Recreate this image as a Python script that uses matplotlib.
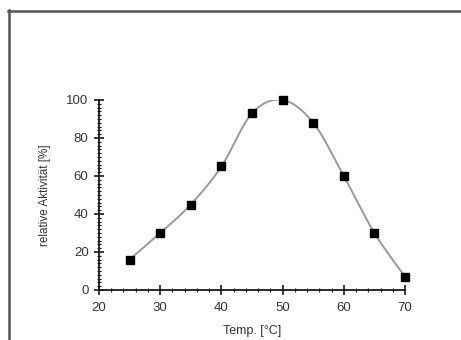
import numpy as np
import matplotlib
matplotlib.use("Agg")
import matplotlib.pyplot as plt
from matplotlib.lines import Line2D
from matplotlib.ticker import MultipleLocator

temps = [25, 30, 35, 40, 45, 50, 55, 60, 65, 70]
activity = [16, 30, 45, 65, 93, 100, 88, 60, 30, 7]
xticks = [20, 30, 40, 50, 60, 70]
yticks = [0, 20, 40, 60, 80, 100]

plt.rcParams['font.family'] = ['Liberation Sans', 'DejaVu Sans']


def catmull_rom(x, y, xs):
    x = np.asarray(x, float); y = np.asarray(y, float)
    n = len(x)
    h = np.diff(x)
    m = np.zeros(n)
    m[1:-1] = (y[2:] - y[:-2]) / (x[2:] - x[:-2])
    m[0] = (y[1] - y[0]) / h[0]
    m[-1] = (y[-1] - y[-2]) / h[-1]
    out = np.empty_like(xs)
    for k, xv in enumerate(xs):
        i = min(max(np.searchsorted(x, xv) - 1, 0), n - 2)
        t = (xv - x[i]) / h[i]
        h00 = 2 * t ** 3 - 3 * t ** 2 + 1
        h10 = t ** 3 - 2 * t ** 2 + t
        h01 = -2 * t ** 3 + 3 * t ** 2
        h11 = t ** 3 - t ** 2
        out[k] = h00 * y[i] + h10 * h[i] * m[i] + h01 * y[i + 1] + h11 * h[i] * m[i + 1]
    return out


fig = plt.figure(figsize=(4.61, 3.40), dpi=100)
fig.patch.set_facecolor('white')

# outer frame (left and top edges visible)
fig.add_artist(Line2D([8.5 / 461, 8.5 / 461], [0, 1 - 10 / 340], transform=fig.transFigure,
                      color='#555555', lw=1.8))
fig.add_artist(Line2D([8 / 461, 1], [1 - 10.5 / 340, 1 - 10.5 / 340], transform=fig.transFigure,
                      color='#555555', lw=1.8))

ax = fig.add_axes([99 / 461, 50 / 340, 306 / 461, 190 / 340])
xs = np.linspace(temps[0], temps[-1], 400)
ax.plot(xs, catmull_rom(temps, activity, xs), color='#999999', lw=1.4, zorder=2)
ax.plot(temps, activity, 's', color='black', markersize=5.2, zorder=3, clip_on=False)

ax.set_xlim(20, 70)
ax.set_ylim(0, 100)
ax.set_xticks(xticks)
ax.set_yticks(yticks)
ax.xaxis.set_minor_locator(MultipleLocator(2))
ax.yaxis.set_minor_locator(MultipleLocator(2))
for s in ['top', 'right']:
    ax.spines[s].set_visible(False)
for s in ['left', 'bottom']:
    ax.spines[s].set_linewidth(1.3)
    ax.spines[s].set_color('#1a1a1a')
ax.tick_params(which='major', direction='inout', length=7, width=1.2, colors='#1a1a1a',
               labelsize=9.5, labelcolor='#333333')
ax.tick_params(axis='x', which='major', pad=5)
ax.tick_params(axis='y', which='major', pad=4)
ax.tick_params(which='minor', direction='inout', length=3, width=0.9, colors='#1a1a1a')

ax.set_xlabel('Temp. [°C]', fontsize=9, color='#333333', labelpad=8)
ax.set_ylabel('relative Aktivität [%]', fontsize=8.5, color='#333333', labelpad=11)

fig.savefig('out.png', dpi=100, facecolor='white')
